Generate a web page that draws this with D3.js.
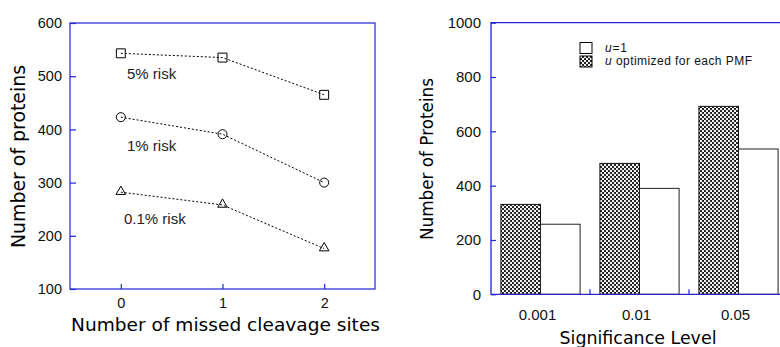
<!DOCTYPE html>
<html>
<head>
<meta charset="utf-8">
<script src="https://cdn.jsdelivr.net/npm/d3@7"></script>
<style>
  body { margin: 0; background: #fff; }
  svg { display: block; }
</style>
</head>
<body>
<svg id="chart" width="780" height="347"></svg>
<script>
// ---------- data ----------
const missedSites = [0, 1, 2];
const risk5 = [543, 535, 465];
const risk1 = [423, 391, 300];
const risk01 = [282, 258, 176];
const riskLabels = ["5% risk", "1% risk", "0.1% risk"];
const leftYTicks = [100, 200, 300, 400, 500, 600];

const sigLevels = ["0.001", "0.01", "0.05"];
const uOptimized = [331, 482, 692];
const uOne = [258, 390, 535];
const rightYTicks = [0, 200, 400, 600, 800, 1000];
const legendLabels = ["=1", " optimized for each PMF"];

// ---------- setup ----------
const svg = d3.select("#chart");
const BLUE = "#2424d4";
const tickFont = "'Liberation Sans', Arial, sans-serif";
const titleFont = "'Comic Sans MS', 'DejaVu Sans', sans-serif";

const defs = svg.append("defs");
const pat = defs.append("pattern").attr("id", "hatch")
  .attr("patternUnits", "userSpaceOnUse").attr("width", 4).attr("height", 4);
pat.append("rect").attr("width", 4).attr("height", 4).attr("fill", "#1a1a1a");
pat.append("circle").attr("cx", 1).attr("cy", 1).attr("r", 1.15).attr("fill", "#fff");
pat.append("circle").attr("cx", 3).attr("cy", 3).attr("r", 1.15).attr("fill", "#fff");

// ---------- left chart ----------
const L = { x0: 70, x1: 375, y0: 23, y1: 289 };
const xL = d3.scaleLinear().domain([-0.5, 2.5]).range([L.x0, L.x1]);
const yL = d3.scaleLinear().domain([100, 600]).range([L.y1, L.y0]);

const gL = svg.append("g");
gL.append("rect").attr("x", L.x0).attr("y", L.y0)
  .attr("width", L.x1 - L.x0).attr("height", L.y1 - L.y0)
  .attr("fill", "none").attr("stroke", BLUE).attr("stroke-width", 1.2);

// y axis
const yAxisL = d3.axisLeft(yL).tickValues(leftYTicks).tickFormat(d3.format("d"))
  .tickSizeInner(-6).tickSizeOuter(0).tickPadding(8);
const gyL = gL.append("g").attr("transform", `translate(${L.x0},0)`).call(yAxisL);
gyL.select(".domain").remove();
gyL.selectAll("line").attr("stroke", BLUE).attr("stroke-width", 1.2);
gyL.selectAll("text").attr("font-family", tickFont).attr("font-size", 14.5).attr("fill", "#111");

// x axis
const xAxisL = d3.axisBottom(xL).tickValues(missedSites).tickFormat(d3.format("d"))
  .tickSizeInner(-5).tickSizeOuter(0).tickPadding(9);
const gxL = gL.append("g").attr("transform", `translate(0,${L.y1})`).call(xAxisL);
gxL.select(".domain").remove();
gxL.selectAll("line").attr("stroke", BLUE).attr("stroke-width", 1.2);
gxL.selectAll("text").attr("font-family", tickFont).attr("font-size", 14.5).attr("fill", "#111");

// series
const series = [
  { vals: risk5, shape: "square", label: riskLabels[0], lx: 127, ly: 79 },
  { vals: risk1, shape: "circle", label: riskLabels[1], lx: 127, ly: 151 },
  { vals: risk01, shape: "triangle", label: riskLabels[2], lx: 124, ly: 224 }
];
const line = d3.line().x((d, i) => xL(missedSites[i])).y(d => yL(d));
series.forEach(s => {
  gL.append("path").datum(s.vals).attr("d", line)
    .attr("fill", "none").attr("stroke", "#000").attr("stroke-width", 1)
    .attr("stroke-dasharray", "2,2");
  const sym = s.shape === "square" ? d3.symbolSquare : s.shape === "circle" ? d3.symbolCircle : d3.symbolTriangle;
  const size = s.shape === "square" ? 80 : s.shape === "circle" ? 64 : 40;
  gL.selectAll(null).data(s.vals).enter().append("path")
    .attr("d", d3.symbol().type(sym).size(size))
    .attr("transform", (d, i) => `translate(${xL(missedSites[i])},${yL(d) + (s.shape === "triangle" ? -0.5 : 0)})`)
    .attr("fill", "none").attr("stroke", "#000").attr("stroke-width", 1);
  gL.append("text").attr("x", s.lx).attr("y", s.ly).text(s.label)
    .attr("font-family", tickFont).attr("font-size", 15).attr("fill", "#222");
});

gL.append("text").attr("x", (71 + 380) / 2).attr("y", 331)
  .attr("text-anchor", "middle").attr("font-family", titleFont).attr("font-size", 18.5)
  .attr("textLength", 309).attr("lengthAdjust", "spacingAndGlyphs")
  .text("Number of missed cleavage sites");
gL.append("text").attr("transform", "translate(25,156.5) rotate(-90)")
  .attr("text-anchor", "middle").attr("font-family", titleFont).attr("font-size", 19)
  .attr("textLength", 183).attr("lengthAdjust", "spacingAndGlyphs")
  .text("Number of proteins");

// ---------- right chart ----------
const R = { x0: 491, x1: 788, y0: 22.7, y1: 294.3 };
const xR = d3.scaleBand().domain(sigLevels).range([R.x0, R.x1]).paddingInner(0.2).paddingOuter(0.1);
const xSub = d3.scaleBand().domain(["opt", "one"]).range([0, xR.bandwidth()]);
const yR = d3.scaleLinear().domain([0, 1000]).range([R.y1, R.y0]);

const gR = svg.append("g");

// bars
sigLevels.forEach((lev, i) => {
  gR.append("rect").attr("x", xR(lev) + xSub("opt")).attr("y", yR(uOptimized[i]))
    .attr("width", xSub.bandwidth()).attr("height", yR(0) - yR(uOptimized[i]))
    .attr("fill", "url(#hatch)").attr("stroke", "#111").attr("stroke-width", 1);
  gR.append("rect").attr("x", xR(lev) + xSub("one")).attr("y", yR(uOne[i]))
    .attr("width", xSub.bandwidth()).attr("height", yR(0) - yR(uOne[i]))
    .attr("fill", "#fff").attr("stroke", "#222").attr("stroke-width", 1);
});

// frame lines (left, top, bottom)
gR.append("path")
  .attr("d", `M${R.x1},${R.y0}H${R.x0}V${R.y1}H${R.x1}`)
  .attr("fill", "none").attr("stroke", BLUE).attr("stroke-width", 1.3);

const yAxisR = d3.axisLeft(yR).tickValues(rightYTicks).tickFormat(d3.format("d"))
  .tickSizeInner(-5).tickSizeOuter(0).tickPadding(10);
const gyR = gR.append("g").attr("transform", `translate(${R.x0},0)`).call(yAxisR);
gyR.select(".domain").remove();
gyR.selectAll("line").attr("stroke", BLUE).attr("stroke-width", 1.2);
gyR.selectAll("text").attr("font-family", tickFont).attr("font-size", 15).attr("fill", "#111");

// category boundary ticks
const bounds = sigLevels.slice(1).map(l => xR(l) - xR.step() * xR.paddingInner() / 2);
gR.selectAll(null).data(bounds).enter().append("line")
  .attr("x1", d => d).attr("x2", d => d).attr("y1", R.y1).attr("y2", R.y1 - 5)
  .attr("stroke", BLUE).attr("stroke-width", 1.2);

// category labels
gR.selectAll(null).data(sigLevels).enter().append("text")
  .attr("x", d => xR(d) + xR.bandwidth() / 2 - 3).attr("y", 320)
  .attr("text-anchor", "middle").attr("font-family", tickFont).attr("font-size", 15).attr("fill", "#111")
  .text(d => d);

// legend
const leg = gR.append("g");
leg.append("rect").attr("x", 580).attr("y", 42.5).attr("width", 12).attr("height", 11)
  .attr("fill", "#fff").attr("stroke", "#000").attr("stroke-width", 1);
leg.append("rect").attr("x", 580).attr("y", 56).attr("width", 12).attr("height", 11)
  .attr("fill", "url(#hatch)").attr("stroke", "#000").attr("stroke-width", 1);
legendLabels.forEach((t, i) => {
  const tx = leg.append("text").attr("x", 605).attr("y", 51.5 + i * 13.5)
    .attr("font-family", tickFont).attr("font-size", 12).attr("fill", "#111")
    .attr("textLength", i === 0 ? 22 : 147).attr("lengthAdjust", "spacing");
  tx.append("tspan").attr("font-style", "italic").text("u");
  tx.append("tspan").text(t);
});

gR.append("text").attr("x", 638).attr("y", 344)
  .attr("text-anchor", "middle").attr("font-family", titleFont).attr("font-size", 17)
  .attr("textLength", 157).attr("lengthAdjust", "spacingAndGlyphs")
  .text("Significance Level");
gR.append("text").attr("transform", "translate(432.5,159) rotate(-90)")
  .attr("text-anchor", "middle").attr("font-family", titleFont).attr("font-size", 17)
  .attr("textLength", 162).attr("lengthAdjust", "spacingAndGlyphs")
  .text("Number of Proteins");
</script>
</body>
</html>
